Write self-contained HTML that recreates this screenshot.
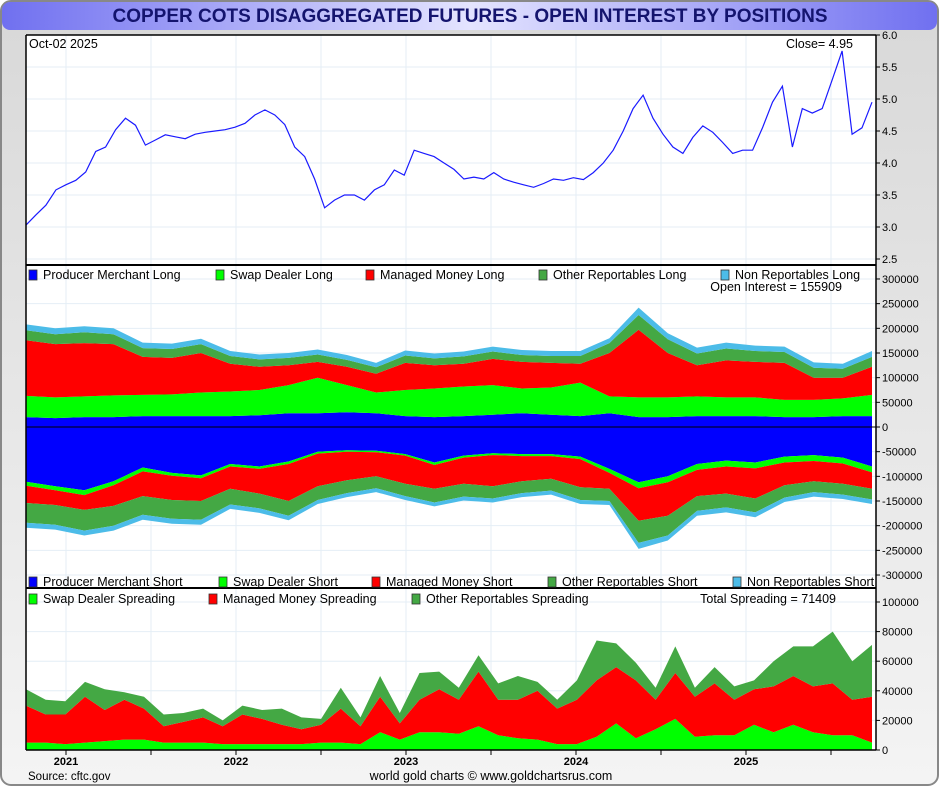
<!DOCTYPE html>
<html><head><meta charset="utf-8">
<style>
html,body{margin:0;padding:0;width:940px;height:787px;overflow:hidden;background:#fff;}
svg{display:block;font-family:"Liberation Sans",sans-serif;}
</style></head>
<body>
<svg id="chart" width="940" height="787" viewBox="0 0 940 787" xmlns="http://www.w3.org/2000/svg">
<defs>
<linearGradient id="bg" x1="0" y1="0" x2="0" y2="1"><stop offset="0" stop-color="#d8d8d8"/><stop offset="1" stop-color="#f4f4f4"/></linearGradient>
<linearGradient id="tb" x1="0" y1="0" x2="1" y2="0"><stop offset="0" stop-color="#7070f0"/><stop offset="0.5" stop-color="#e4e4ff"/><stop offset="1" stop-color="#7070f0"/></linearGradient>
</defs>
<rect x="1" y="1" width="937" height="784" rx="10" fill="url(#bg)" stroke="#888" stroke-width="2"/>
<rect x="2" y="2" width="935" height="28" rx="8" fill="url(#tb)"/>
<text x="470" y="22" text-anchor="middle" font-size="19" font-weight="bold" fill="#14146e">COPPER COTS DISAGGREGATED FUTURES - OPEN INTEREST BY POSITIONS</text>
<rect x="26" y="35" width="850" height="715" fill="#fff"/>
<g id="grid"></g>
<g id="marks"></g>
<g id="axes"></g>
<g id="labels"></g>
</svg>
<script>
// ---- price panel data ----
const priceValues=[3.03,3.19,3.34,3.58,3.66,3.73,3.86,4.18,4.25,4.52,4.70,4.59,4.28,4.36,4.44,4.41,4.38,4.45,4.48,4.50,4.52,4.56,4.62,4.75,4.83,4.75,4.60,4.25,4.10,3.75,3.30,3.42,3.50,3.50,3.42,3.58,3.66,3.89,3.81,4.20,4.15,4.10,4.00,3.90,3.75,3.78,3.75,3.85,3.75,3.70,3.66,3.62,3.68,3.75,3.73,3.77,3.74,3.85,4.00,4.20,4.50,4.85,5.06,4.70,4.45,4.25,4.15,4.40,4.58,4.48,4.32,4.15,4.20,4.20,4.55,4.95,5.20,4.25,4.85,4.78,4.85,5.30,5.75,4.45,4.55,4.95];
const priceTicks=[6.0,5.5,5.0,4.5,4.0,3.5,3.0,2.5];
// ---- positions (thousands of contracts) ----
const pmLong=[20,18,20,20,22,22,22,22,24,28,28,30,28,22,20,22,25,28,25,22,28,20,20,22,22,22,20,20,22,22];
const swapLong=[43,42,42,44,43,44,48,50,51,57,72,55,42,53,58,60,60,50,55,68,34,40,40,40,38,38,35,35,36,43];
const mmLong=[113,108,108,104,77,74,80,56,47,40,32,37,38,55,47,46,53,54,50,38,88,137,90,63,75,72,75,45,42,57];
const orLong=[20,20,22,20,18,18,18,16,15,15,15,14,13,15,14,15,15,14,14,16,20,30,28,24,24,22,22,20,18,20];
const nrLong=[12,12,12,12,11,11,11,10,10,10,10,10,9,10,10,10,10,10,10,10,10,15,12,12,12,11,11,11,10,12];
const pmShort=[111,120,128,110,82,93,98,75,80,70,50,47,48,55,72,58,53,55,55,60,85,112,100,75,68,72,60,57,62,80];
const swapShort=[8,8,10,8,8,6,6,5,5,5,4,3,3,3,5,4,4,4,4,5,8,12,12,12,12,12,12,12,12,12];
const mmShort=[35,30,30,42,50,49,46,45,50,75,66,58,49,57,48,53,63,51,46,57,32,66,68,53,55,61,46,41,41,33];
const orShort=[40,40,42,40,38,38,38,32,30,30,28,26,24,25,28,26,25,24,24,26,25,45,40,30,28,28,25,22,22,22];
const nrShort=[10,10,10,10,10,10,10,9,9,9,8,8,8,8,8,8,8,8,8,8,8,12,10,10,10,10,9,9,9,9];
const oiTicks=[300000,250000,200000,150000,100000,50000,0,-50000,-100000,-150000,-200000,-250000,-300000];
// ---- spreading (thousands) ----
const swapSpread=[5,5,4,5,6,7,7,5,5,5,4,4,4,4,4,5,5,4,12,7,12,12,11,16,10,8,7,4,4,9,18,8,14,21,9,10,10,17,12,17,12,10,10,5];
const mmSpread=[25,19,20,31,21,27,21,11,14,17,12,20,17,13,10,12,23,12,24,11,22,29,23,37,24,26,33,24,30,38,38,39,20,31,27,35,24,24,31,33,31,35,24,31];
const orSpread=[11,10,9,10,14,5,8,8,6,6,4,6,6,11,8,4,14,6,14,7,18,12,8,11,11,16,6,6,13,27,16,12,8,18,6,11,9,6,17,20,27,35,26,35];
const spreadTicks=[100000,80000,60000,40000,20000,0];
const years=["2021","2022","2023","2024","2025"];

const NS="http://www.w3.org/2000/svg";
const X0=26,X1=872,PR=876;
function mk(tag,attrs,parent){const e=document.createElementNS(NS,tag);for(const k in attrs)e.setAttribute(k,attrs[k]);parent.appendChild(e);return e;}
const grid=document.getElementById('grid'),marks=document.getElementById('marks'),axes=document.getElementById('axes'),labels=document.getElementById('labels');
function xIdx(i,n){return X0+(X1-X0)*i/(n-1);}
const yPrice=v=>35+(6-v)*64;
const yOI=v=>427-v/50000*24.67;
const ySp=v=>750-v/100000*148;
const yearX=k=>66+170*k;

for(let k=-0.5;k<=4.6;k+=0.5){const x=yearX(k);if(x<X0||x>PR)continue;
 const g=mk('line',{x1:x,x2:x,y1:35,y2:750,stroke:'#e4eef6','stroke-width':1},grid);
 }
function hgrid(y){const g=mk('line',{x1:X0,x2:PR,y1:y,y2:y,stroke:'#e4eef6','stroke-width':1},grid);
 }
function tick(y,label,name){const t=mk('line',{x1:PR,x2:PR+4,y1:y,y2:y,stroke:'#000'},axes);
 
 const tx=mk('text',{x:PR+6,y:y+4,'font-size':11,fill:'#000'},axes);tx.textContent=label;
 }
priceTicks.forEach(v=>{hgrid(yPrice(v));tick(yPrice(v),v.toFixed(1),'price-axis');});
oiTicks.forEach(v=>{hgrid(yOI(v));tick(yOI(v),String(v),'oi-axis');});
spreadTicks.forEach(v=>{hgrid(ySp(v));tick(ySp(v),String(v),'spread-axis');});

{const n=priceValues.length;const d=priceValues.map((v,i)=>(i?'L':'M')+xIdx(i,n).toFixed(1)+','+yPrice(v).toFixed(1)).join('');
 const p=mk('path',{d:d,fill:'none',stroke:'#1a1aff','stroke-width':1.2},marks);
 }

function stack(series,colors,names,yf,sign){
 const n=series[0].length;let base=new Array(n).fill(0);
 series.forEach((s,si)=>{const top=base.map((b,i)=>b+s[i]);
  let d='';for(let i=0;i<n;i++)d+=(i?'L':'M')+xIdx(i,n).toFixed(1)+','+yf(sign*top[i]*1000).toFixed(1);
  for(let i=n-1;i>=0;i--)d+='L'+xIdx(i,n).toFixed(1)+','+yf(sign*base[i]*1000).toFixed(1);
  const p=mk('path',{d:d+'Z',fill:colors[si]},marks);
  
  base=top;});
}
const C=['#0000ff','#00ff00','#ff0000','#44a844','#4cbce8'];
stack([pmLong,swapLong,mmLong,orLong,nrLong],C,['producer-merchant-long-area','swap-dealer-long-area','managed-money-long-area','other-reportables-long-area','non-reportables-long-area'],yOI,1);
stack([pmShort,swapShort,mmShort,orShort,nrShort],C,['producer-merchant-short-area','swap-dealer-short-area','managed-money-short-area','other-reportables-short-area','non-reportables-short-area'],yOI,-1);
stack([swapSpread,mmSpread,orSpread],['#00ff00','#ff0000','#44a844'],['swap-dealer-spreading-area','managed-money-spreading-area','other-reportables-spreading-area'],ySp,1);
{const z=mk('line',{x1:X0,x2:PR,y1:yOI(0),y2:yOI(0),stroke:'#000','stroke-width':1},marks);}

[[X0,35,PR,35],[X0,750,PR,750],[X0,35,X0,750],[PR,35,PR,750],[X0,265,PR,265],[X0,588,PR,588]].forEach(a=>{
 const l=mk('line',{x1:a[0],y1:a[1],x2:a[2],y2:a[3],stroke:'#000','stroke-width':(a[1]==a[3]&&(a[1]==265||a[1]==588))?2:1.5},axes);
 });
for(let k=-0.5;k<=4.6;k+=0.5){const x=yearX(k);if(x<X0||x>PR)continue;
 const t=mk('line',{x1:x,x2:x,y1:750,y2:755,stroke:'#000'},axes);}
years.forEach((y,k)=>{const t=mk('text',{x:yearX(k),y:765,'text-anchor':'middle','font-size':11,'font-weight':'bold'},axes);t.textContent=y;
 });

function legend(items,y,prefix){items.forEach(it=>{
 const r=mk('rect',{x:it[0],y:y-9,width:8,height:10,fill:it[2],stroke:'#333','stroke-width':0.8},labels);
 
 const t=mk('text',{x:it[0]+14,y:y,'font-size':12.5},labels);t.textContent=it[1];
 });}
legend([[29,'Producer Merchant Long',C[0]],[216,'Swap Dealer Long',C[1]],[366,'Managed Money Long',C[2]],[539,'Other Reportables Long',C[3]],[721,'Non Reportables Long',C[4]]],279,'long');
legend([[29,'Producer Merchant Short',C[0]],[219,'Swap Dealer Short',C[1]],[372,'Managed Money Short',C[2]],[548,'Other Reportables Short',C[3]],[733,'Non Reportables Short',C[4]]],586,'short');
legend([[29,'Swap Dealer Spreading','#00ff00'],[209,'Managed Money Spreading','#ff0000'],[412,'Other Reportables Spreading','#44a844']],603,'spreading');
function txt(x,y,s,name,size,anchor){const t=mk('text',{x:x,y:y,'font-size':size||12.5,'text-anchor':anchor||'start'},labels);t.textContent=s;
 }
txt(29,48,'Oct-02  2025','date-label');
txt(853,48,'Close= '+priceValues[priceValues.length-1].toFixed(2),'close-label',12.5,'end');
txt(842,291,'Open Interest = 155909','open-interest-label',12.5,'end');
txt(836,603,'Total Spreading = 71409','total-spreading-label',12.5,'end');
txt(28,780,'Source: cftc.gov','source-label',11.5);
txt(491,780,'world gold charts \u00a9 www.goldchartsrus.com','credit-label',12.5,'middle');
</script>
</body></html>
